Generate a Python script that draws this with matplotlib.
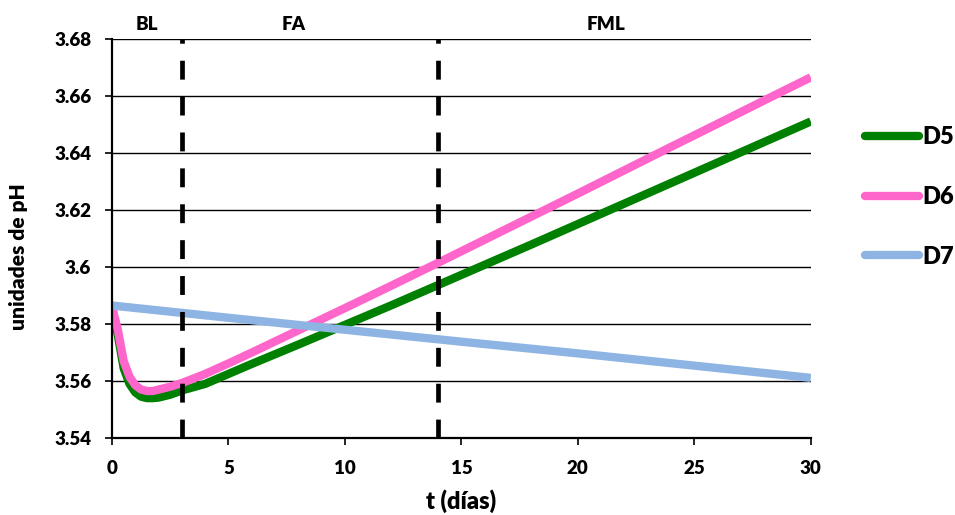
import matplotlib
matplotlib.use("Agg")
import matplotlib.pyplot as plt
from matplotlib.ticker import FuncFormatter, MultipleLocator

plt.rcParams['font.family'] = ['Lato', 'DejaVu Sans']
plt.rcParams['font.weight'] = 'bold'

# time (days)
t = [0, 0.25, 0.5, 0.75, 1.0, 1.25, 1.5, 1.75, 2.0, 2.5, 3, 4, 5, 6, 8,
     10, 12, 14, 16, 18, 20, 22, 24, 26, 28, 30]

d5 = [3.586, 3.576, 3.5645, 3.559, 3.556, 3.5545, 3.554, 3.554, 3.5542,
      3.5552, 3.5567, 3.559, 3.5625, 3.566, 3.5728, 3.5797, 3.5866, 3.5937,
      3.6008, 3.6079, 3.6151, 3.6223, 3.6295, 3.6367, 3.6439, 3.6511]

d6 = [3.586, 3.578, 3.567, 3.5615, 3.5585, 3.557, 3.5565, 3.5565, 3.557,
      3.558, 3.5593, 3.5625, 3.5662, 3.570, 3.5778, 3.5856, 3.5935, 3.6015,
      3.6096, 3.6177, 3.6258, 3.634, 3.6422, 3.6503, 3.6585, 3.6666]

t7 = [0, 5, 10, 15, 20, 25, 30]
d7 = [3.5865, 3.5822, 3.578, 3.5738, 3.5697, 3.5654, 3.5611]

series_labels = ['D5', 'D6', 'D7']
series_colors = ['#008000', '#FF66CC', '#8EB4E3']

phase_bounds = [3, 14]
phase_names = ['BL', 'FA', 'FML']
phase_pos = [1.5, 7.8, 21.2]

fig = plt.figure(figsize=(9.55, 5.15), dpi=100)
ax = fig.add_axes([0.1173, 0.1495, 0.7317, 0.7745])

ax.set_xlim(0, 30)
ax.set_ylim(3.54, 3.68)
ax.xaxis.set_major_locator(MultipleLocator(5))
ax.yaxis.set_major_locator(MultipleLocator(0.02))
ax.yaxis.set_major_formatter(FuncFormatter(lambda v, p: f"{v:g}"))

ax.grid(axis='y', color='black', linewidth=1.0, zorder=1)
ax.set_axisbelow(True)

for sp in ['top', 'right']:
    ax.spines[sp].set_visible(False)
for sp in ['left', 'bottom']:
    ax.spines[sp].set_linewidth(1.6)
    ax.spines[sp].set_zorder(6)

ax.tick_params(axis='both', direction='out', length=5, width=1.2,
               labelsize=13.5)
ax.tick_params(axis='y', pad=10)
ax.tick_params(axis='x', pad=11)
for lab in ax.get_xticklabels() + ax.get_yticklabels():
    lab.set_fontweight('heavy')

lw = 6
ax.plot(t, d5, color=series_colors[0], lw=lw, label=series_labels[0],
        solid_capstyle='butt', zorder=3)
ax.plot(t, d6, color=series_colors[1], lw=lw, label=series_labels[1],
        solid_capstyle='butt', zorder=3)
ax.plot(t7, d7, color=series_colors[2], lw=lw, label=series_labels[2],
        solid_capstyle='butt', zorder=3)

for xb in phase_bounds:
    ax.axvline(xb, color='black', lw=3.4, linestyle=(0, (4, 3.6)), zorder=5)

for name, xp in zip(phase_names, phase_pos):
    ax.text(xp, 1.016, name, transform=ax.get_xaxis_transform(),
            ha='center', va='bottom', fontsize=13.5, fontweight='heavy')

ax.set_xlabel('t (días)', fontsize=17, fontweight='heavy')
ax.xaxis.set_label_coords(0.5, -0.128)
ax.set_ylabel('unidades de pH', fontsize=15, fontweight='heavy')
ax.yaxis.set_label_coords(-0.12, 0.454)

leg = fig.legend(loc='upper left', bbox_to_anchor=(0.893, 0.778),
                 frameon=False, fontsize=17, handlelength=2.3,
                 handletextpad=0.15, labelspacing=1.6, borderpad=0)
for txt in leg.get_texts():
    txt.set_fontweight('heavy')
for h in leg.legend_handles:
    h.set_linewidth(6)
    h.set_solid_capstyle('round')

fig.savefig('out.png', dpi=100)
